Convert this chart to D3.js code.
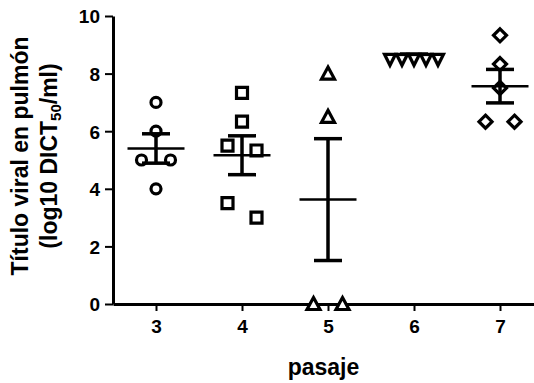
<!DOCTYPE html>
<html>
<head>
<meta charset="utf-8">
<script src="https://cdn.jsdelivr.net/npm/d3@7"></script>
<style>
  html, body { margin: 0; padding: 0; background: #fff; }
  svg { display: block; font-family: "Liberation Sans", Arial, sans-serif; font-weight: bold; }
</style>
</head>
<body>
<div id="chart"></div>
<script>
// -------- Data --------
const passages = [3, 4, 5, 6, 7];
const titerP3 = [7, 6, 5, 5, 4];
const titerP4 = [7.33, 6.33, 5.5, 5.33, 3.5, 3.0];
const titerP5 = [8, 6.5, 0, 0];
const titerP6 = [8.67, 8.67, 8.67, 8.67, 8.67];
const titerP7 = [9.33, 8.33, 7.5, 6.33, 6.33];
const yTicks = [0, 2, 4, 6, 8, 10];
const symbols = ["circle", "square", "triangleUp", "triangleDown", "diamond"];

const groups = passages.map((p, i) => ({
  passage: p,
  values: [titerP3, titerP4, titerP5, titerP6, titerP7][i],
  symbol: symbols[i]
}));

// -------- Layout --------
const W = 534, H = 383;
const svg = d3.select("#chart").append("svg")
  .attr("width", W)
  .attr("height", H);

const x = d3.scaleLinear().domain([2.5, 7.4]).range([113, 534.4]);
const y = d3.scaleLinear().domain([0, 10]).range([304, 16]);

// -------- Axes --------
const yAxis = svg.append("g")
  .attr("transform", `translate(${x(2.5)},0)`)
  .call(d3.axisLeft(y).tickValues(yTicks).tickSize(8).tickSizeOuter(0).tickPadding(5));

const xAxis = svg.append("g")
  .attr("transform", `translate(0,${y(0)})`)
  .call(d3.axisBottom(x).tickValues(passages).tickSize(7).tickSizeOuter(0).tickPadding(9)
    .tickFormat(d3.format("d")));

[yAxis, xAxis].forEach(ax => {
  ax.select(".domain").attr("stroke", "#000").attr("stroke-width", 3);
  ax.selectAll(".tick line").attr("stroke", "#000").attr("stroke-width", 2);
  ax.selectAll(".tick text")
    .attr("fill", "#000")
    .attr("font-size", 19)
    .attr("font-weight", "bold")
    .attr("font-family", "Liberation Sans, Arial, sans-serif");
});
yAxis.selectAll(".tick text").attr("dy", "0.36em");

// -------- Axis titles --------
svg.append("text")
  .attr("x", (x(2.5) + 534) / 2)
  .attr("y", 375)
  .attr("text-anchor", "middle")
  .attr("font-size", 23)
  .text("pasaje");

const yTitle = svg.append("text")
  .attr("transform", `translate(0,${(y(0) + y(10)) / 2 - 4}) rotate(-90)`)
  .attr("text-anchor", "middle")
  .attr("font-size", 23);
yTitle.append("tspan").attr("x", 0).attr("y", 28).text("Título viral en pulmón");
const line2 = yTitle.append("tspan").attr("x", 0).attr("y", 57);
line2.append("tspan").text("(log10 DICT");
line2.append("tspan").attr("font-size", 15).attr("dy", 4).text("50");
line2.append("tspan").attr("dy", -4).text("/ml)");

// -------- Point layout: spread points with colliding values --------
function spreadPoints(values) {
  const sorted = values.map((v, i) => ({ v, i })).sort((a, b) => b.v - a.v);
  const rows = [];
  sorted.forEach(d => {
    const last = rows[rows.length - 1];
    if (last && Math.abs(y(last[last.length - 1].v) - y(d.v)) < 16) last.push(d);
    else rows.push([d]);
  });
  const out = [];
  rows.forEach(row => {
    const n = row.length;
    const step = n > 1 ? Math.min(29, 48 / (n - 1)) : 0;
    row.forEach((d, k) => out.push({ v: d.v, dx: (k - (n - 1) / 2) * step }));
  });
  return out;
}

const symbolPath = {
  circle: "M5,0A5,5 0 1,1 -5,0A5,5 0 1,1 5,0Z",
  square: "M-5.5,-5.5H5.5V5.5H-5.5Z",
  triangleUp: "M0,-6.5L6.5,5.5L-6.5,5.5Z",
  triangleDown: "M-5.5,0L5.5,0L0,11Z",
  diamond: "M0,-6.5L6.5,0L0,6.5L-6.5,0Z"
};

// -------- Marks --------
groups.forEach(g => {
  const cx = x(g.passage);
  const pts = spreadPoints(g.values);

  svg.append("g").selectAll("path")
    .data(pts)
    .join("path")
    .attr("transform", d => `translate(${cx + d.dx},${y(d.v)})`)
    .attr("d", symbolPath[g.symbol])
    .attr("fill", "#fff")
    .attr("stroke", "#000")
    .attr("stroke-width", 3.2)
    .attr("stroke-linejoin", "miter");

  const mean = d3.mean(g.values);
  const sem = d3.deviation(g.values) / Math.sqrt(g.values.length);

  const eb = svg.append("g").attr("stroke", "#000");
  eb.append("line")
    .attr("x1", cx).attr("x2", cx)
    .attr("y1", y(mean + sem)).attr("y2", y(mean - sem))
    .attr("stroke-width", 3.5);
  [mean + sem, mean - sem].forEach(v => {
    eb.append("line")
      .attr("x1", cx - 14).attr("x2", cx + 14)
      .attr("y1", y(v)).attr("y2", y(v))
      .attr("stroke-width", 3.5);
  });
  eb.append("line")
    .attr("x1", cx - 28.5).attr("x2", cx + 28.5)
    .attr("y1", y(mean)).attr("y2", y(mean))
    .attr("stroke-width", 2.5);
});
</script>
</body>
</html>
